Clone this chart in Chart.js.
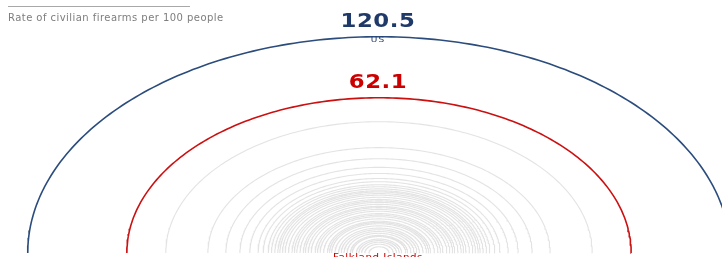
<!DOCTYPE html>
<html>
<head>
<meta charset="utf-8">
<script src="https://cdn.jsdelivr.net/npm/chart.js@4/dist/chart.umd.min.js"></script>
<style>
  html, body { margin: 0; padding: 0; background: #fff; }
  #wrap { position: relative; width: 722px; height: 257px; overflow: hidden; }
  #title {
    position: absolute; left: 8px; top: 6px; width: 182px;
    border-top: 1px solid #a8a8a8;
    font-family: "DejaVu Sans", sans-serif; font-size: 10px; letter-spacing: 0.45px; color: #7d7d7d;
    padding-top: 5px; white-space: nowrap; line-height: 11px;
  }
</style>
</head>
<body>
<div id="wrap">
  <canvas id="c" width="722" height="257"></canvas>
  <div id="title">Rate of civilian firearms per 100 people</div>
</div>
<script>
// ---- data (civilian firearms per 100 people) ----
const highlightCountries = ['US', 'Falkland Islands'];
const highlightRates = [120.5, 62.1];
const highlightColors = ['#2b4c7c', '#cc1010'];
const highlightTextColors = ['#1f3a68', '#cc0000'];

// other countries (unlabelled grey rings)
const otherRates = [44.4, 28.6, 22.9, 18.9, 16.3, 14.3, 13.1, 12.0, 11.3, 10.6,
  10.0, 9.6, 9.1, 8.6, 8.0, 7.4, 7.0, 6.6, 6.1, 5.6, 5.3, 4.9, 4.5, 4.0, 3.7,
  3.4, 3.0, 2.6, 2.4, 2.2, 1.9, 1.6, 1.4, 1.2, 1.0, 0.8, 0.7, 0.5, 0.4, 0.3, 0.2, 0.1];
const otherCountries = otherRates.map((_, i) => 'Other ' + (i + 1));

// ring radius proportional to sqrt(rate) so ring area tracks the rate
function ring(rate) {
  const r = Math.sqrt(rate);
  const pts = [];
  for (let a = 0; a <= 180; a += 1) {
    const t = a * Math.PI / 180;
    pts.push({ x: r * Math.cos(t), y: r * Math.sin(t) });
  }
  return pts;
}

const datasets = [];
otherRates.forEach((v, i) => {
  datasets.push({
    label: otherCountries[i], data: ring(v), showLine: true, pointRadius: 0,
    borderColor: 'rgba(140,140,140,0.24)', borderWidth: 1.1, tension: 0
  });
});
highlightRates.forEach((v, i) => {
  datasets.push({
    label: highlightCountries[i], data: ring(v), showLine: true, pointRadius: 0,
    borderColor: highlightColors[i], borderWidth: 1.6, tension: 0
  });
});

function wideText(ctx, text, x, y, sx) {
  ctx.save();
  ctx.translate(x, y);
  ctx.scale(sx, 1);
  ctx.fillText(text, 0, 0);
  ctx.restore();
}

const labelPlugin = {
  id: 'labels',
  afterDraw(chart) {
    const ctx = chart.ctx, xs = chart.scales.x, ys = chart.scales.y;
    const cx = xs.getPixelForValue(0);
    const base = ys.getPixelForValue(0);
    ctx.save();
    ctx.textAlign = 'center';
    // US
    const usTop = ys.getPixelForValue(Math.sqrt(highlightRates[0]));
    ctx.fillStyle = highlightTextColors[0];
    ctx.font = 'bold 19px "DejaVu Sans"';
    ctx.letterSpacing = '0.5px';
    ctx.textBaseline = 'alphabetic';
    wideText(ctx, highlightRates[0].toFixed(1), cx - 1, usTop - 10, 1.2);
    ctx.font = '7.5px "DejaVu Sans"';
    ctx.letterSpacing = '1px';
    ctx.textBaseline = 'top';
    wideText(ctx, highlightCountries[0], cx - 1, usTop, 1.2);
    // Falkland Islands
    const fiTop = ys.getPixelForValue(Math.sqrt(highlightRates[1]));
    ctx.fillStyle = highlightTextColors[1];
    ctx.font = 'bold 19px "DejaVu Sans"';
    ctx.letterSpacing = '0.5px';
    ctx.textBaseline = 'alphabetic';
    wideText(ctx, highlightRates[1].toFixed(1), cx - 1, fiTop - 10, 1.2);
    ctx.font = '9.5px "DejaVu Sans"';
    ctx.letterSpacing = '0.5px';
    ctx.textBaseline = 'top';
    wideText(ctx, highlightCountries[1], cx - 1, base, 1.08);
    ctx.restore();
  }
};

new Chart(document.getElementById('c'), {
  type: 'scatter',
  data: { datasets },
  options: {
    responsive: false,
    animation: false,
    devicePixelRatio: 1,
    layout: { padding: 0 },
    plugins: { legend: { display: false }, tooltip: { enabled: false }, title: { display: false } },
    scales: {
      x: { type: 'linear', display: false, min: -379 / 32, max: 343 / 32 },
      y: { type: 'linear', display: false, min: -4 / 19.7, max: 253 / 19.7 }
    }
  },
  plugins: [labelPlugin]
});
</script>
</body>
</html>
